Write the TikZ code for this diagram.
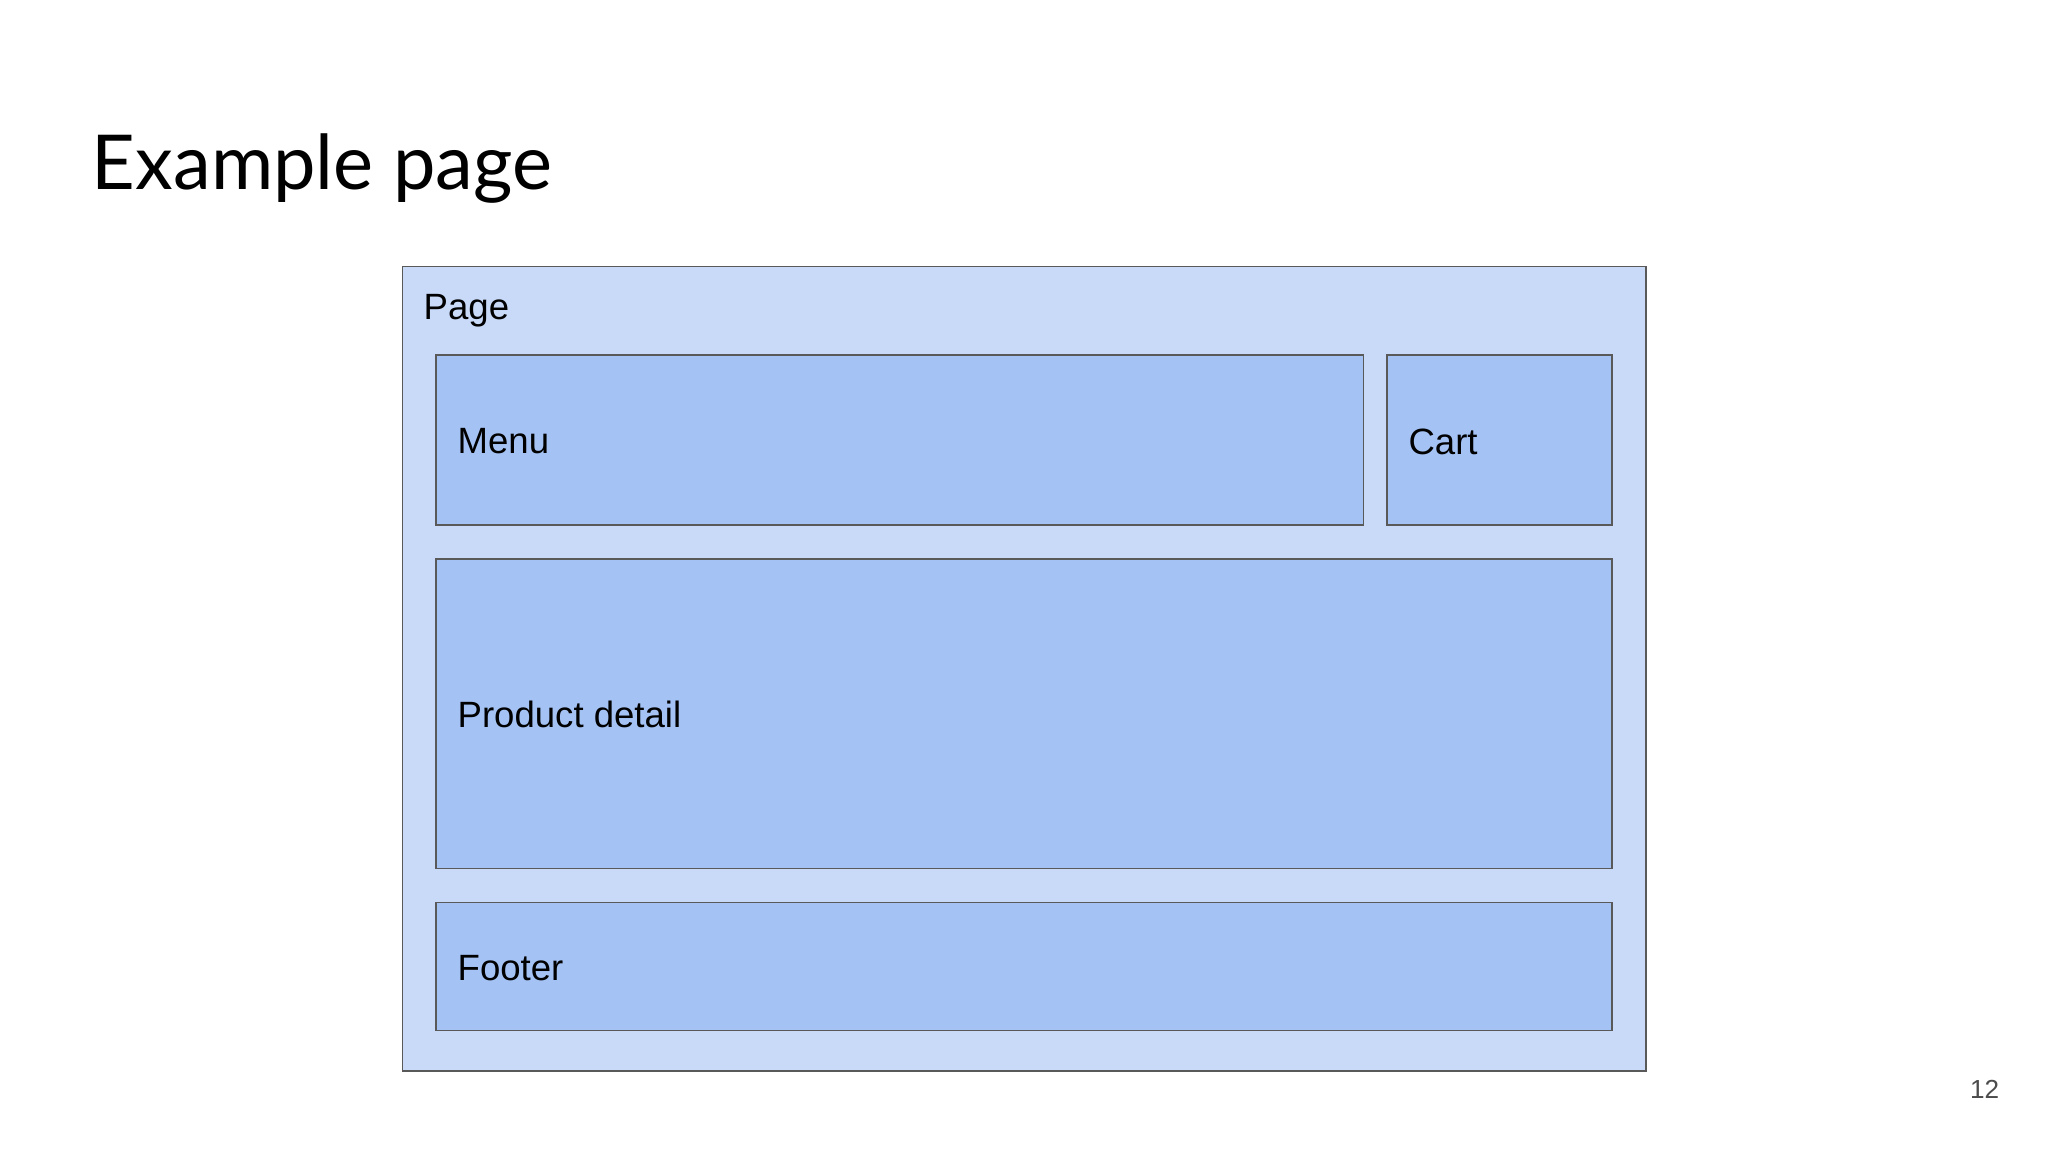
\documentclass[tikz,border=0pt]{standalone}
\usepackage{fontspec}
\setmainfont{Liberation Sans}
\newfontfamily\titlefont{Lato}
\begin{document}
\begin{tikzpicture}[x=0.5pt,y=-0.5pt,
  outerbox/.style={draw=black!65,fill=outerc,line width=0.6pt},
  innerbox/.style={draw=black!65,fill=innerc,line width=0.6pt},
  lbl/.style={anchor=west,font=\fontsize{14}{16}\selectfont,inner sep=0pt}]
\definecolor{outerc}{HTML}{C9DAF8}
\definecolor{innerc}{HTML}{A4C2F4}
\useasboundingbox[fill=white] (0,0) rectangle (1568,882);
\node[anchor=west,inner sep=0pt,font=\titlefont\fontsize{29}{34}\selectfont] (title) at (70,129) {Example page};
\draw[outerbox] (308,204) rectangle (1260,820);
\node[lbl] (page) at (324,238) {Page};
\draw[innerbox] (334,272) rectangle (1044,402);
\node[lbl] (menu) at (350,338) {Menu};
\draw[innerbox] (1062,272) rectangle (1234,402);
\node[lbl] (cart) at (1078,338) {Cart};
\draw[innerbox] (334,428) rectangle (1234,665);
\node[lbl] (prod) at (350,547) {Product detail};
\draw[innerbox] (334,691) rectangle (1234,789);
\node[lbl] (foot) at (350,741) {Footer};
\node[anchor=east,inner sep=0pt,text=black!70,font=\fontsize{10}{12}\selectfont] (num) at (1531,834) {12};
\end{tikzpicture}
\end{document}
